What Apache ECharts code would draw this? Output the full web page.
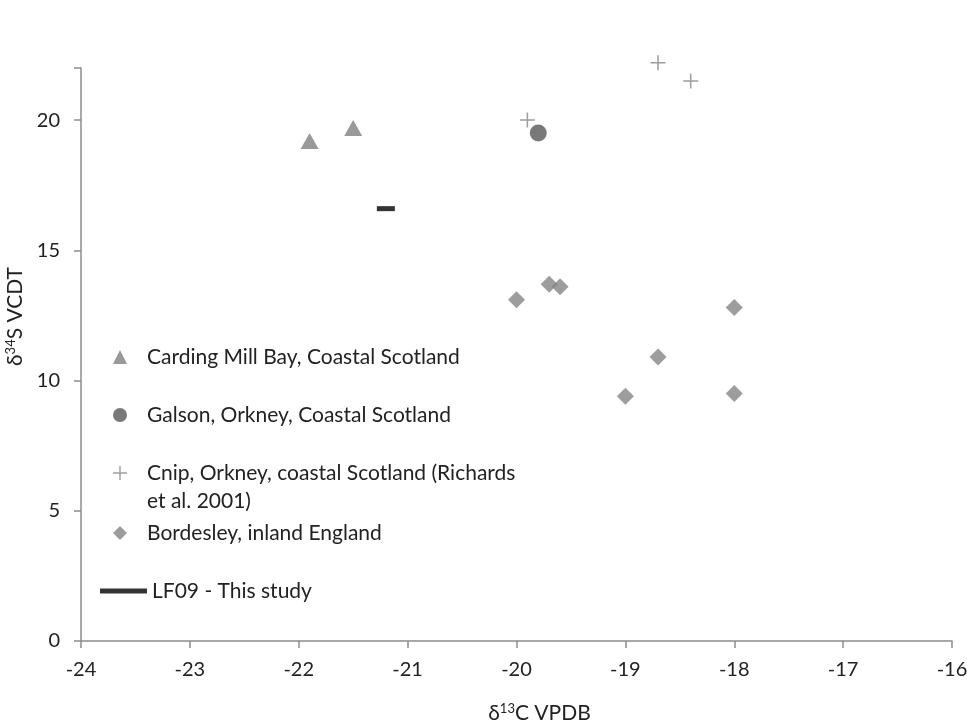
<!DOCTYPE html>
<html>
<head>
<meta charset="utf-8">
<script src="https://cdn.jsdelivr.net/npm/echarts@6/dist/echarts.min.js"></script>
<style>html,body{margin:0;padding:0;background:#fff}#c{width:967px;height:728px}</style>
</head>
<body>
<div id="c"></div>
<script>
var cardingMill = [[-21.9, 19.2], [-21.5, 19.7]];
var galson = [[-19.8, 19.5]];
var cnip = [[-19.9, 20.0], [-18.7, 22.2], [-18.4, 21.5]];
var bordesley = [[-20.0, 13.1], [-19.7, 13.7], [-19.6, 13.6], [-18.0, 12.8], [-18.7, 10.9], [-19.0, 9.4], [-18.0, 9.5]];
var lf09 = [[-21.2, 16.6]];
var names = ['Carding Mill Bay, Coastal Scotland', 'Galson, Orkney, Coastal Scotland', 'Cnip, Orkney, coastal Scotland (Richards\net al. 2001)', 'Bordesley, inland England', 'LF09 - This study'];
var xTicks = [-24, -23, -22, -21, -20, -19, -18, -17, -16];
var yTicks = [0, 5, 10, 15, 20];

var font = 'Lato';
var crossPath = 'path://M-0.7,-7H0.7V-0.7H7V0.7H0.7V7H-0.7V0.7H-7V-0.7H-0.7Z';
function lg(i, top, icon, w, h, left, pad, fmt) {
  var o = {show: true, orient: 'vertical', left: left, top: top, itemWidth: w, itemHeight: h,
    data: [{name: names[i], icon: icon}],
    textStyle: {fontFamily: font, fontSize: 21, color: '#222', lineHeight: 28, padding: pad},
    selectedMode: false};
  if (fmt) o.formatter = fmt;
  return o;
}
var nameRich = {
  d: {fontFamily: font, fontSize: 21, color: '#222'},
  s: {fontFamily: font, fontSize: 13, color: '#222', verticalAlign: 'top', padding: [0, 0, 9, 0]},
  n: {fontFamily: font, fontSize: 21, color: '#222'}
};
var chart = echarts.init(document.getElementById('c'));
chart.setOption({
  animation: false,
  backgroundColor: '#fff',
  grid: {left: 81, right: 15, top: 68, bottom: 87, containLabel: false, outerBoundsMode: 'none'},
  legend: [
    lg(0, 338, 'triangle', 14, 14, 108, [0, 0, 0, 15]),
    lg(1, 396, 'circle', 14, 14, 108, [0, 0, 0, 15]),
    lg(2, 426, crossPath, 14, 14, 108, [0, 0, 0, 15], function (n) { return '\n' + n; }),
    lg(3, 514, 'diamond', 14, 14, 108, [0, 0, 0, 15]),
    lg(4, 572, 'rect', 47, 5, 95, [0, 0, 0, 0])
  ],
  xAxis: {
    type: 'value', min: xTicks[0], max: xTicks[xTicks.length - 1], interval: 1,
    name: '{d|δ}{s|13}{n|C VPDB}', nameLocation: 'middle', nameGap: 61,
    nameTextStyle: {rich: nameRich, padding: [0, 0, 0, 46]},
    axisLine: {show: true, onZero: false, lineStyle: {color: '#8c8c8c', width: 1.5}},
    axisTick: {show: true, inside: false, length: 7, lineStyle: {color: '#8c8c8c', width: 1.5}},
    axisLabel: {fontFamily: font, fontSize: 20, color: '#222', margin: 19},
    splitLine: {show: false}
  },
  yAxis: {
    type: 'value', min: 0, max: 22, interval: 5,
    name: '{d|δ}{s|34}{n|S VCDT}', nameLocation: 'middle', nameGap: 44, nameRotate: 90,
    nameTextStyle: {rich: nameRich, padding: [0, 0, 0, 76]},
    axisLine: {show: true, onZero: false, lineStyle: {color: '#8c8c8c', width: 1.5}},
    axisTick: {show: true, inside: false, length: 7, lineStyle: {color: '#8c8c8c', width: 1.5}},
    axisLabel: {fontFamily: font, fontSize: 20, color: '#222', margin: 21, formatter: function (v) { return yTicks.indexOf(v) >= 0 ? String(v) : ''; }},
    splitLine: {show: false}
  },
  series: [
    {name: names[0], type: 'scatter', data: cardingMill, symbol: 'triangle', symbolSize: [18, 16], itemStyle: {color: '#7f7f7f'}, clip: false},
    {name: names[1], type: 'scatter', data: galson, symbol: 'circle', symbolSize: 17, itemStyle: {color: '#575757'}, clip: false},
    {name: names[2], type: 'scatter', data: cnip, symbol: crossPath, symbolSize: 15, itemStyle: {color: '#858585'}, clip: false},
    {name: names[3], type: 'scatter', data: bordesley, symbol: 'diamond', symbolSize: 17, itemStyle: {color: '#858585'}, clip: false},
    {name: names[4], type: 'scatter', data: lf09, symbol: 'rect', symbolSize: [18, 5], itemStyle: {color: '#000'}, clip: false}
  ]
});
</script>
</body>
</html>
